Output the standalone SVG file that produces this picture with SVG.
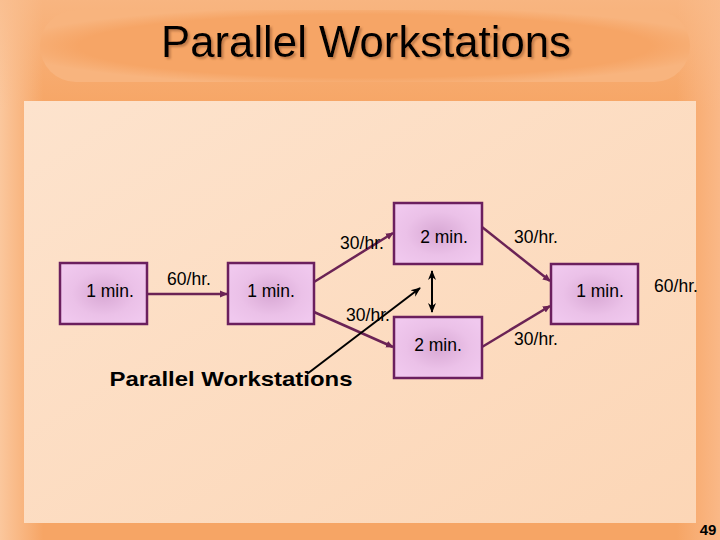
<svg xmlns="http://www.w3.org/2000/svg" width="720" height="540" viewBox="0 0 720 540">
<style>
.t{font-family:"Liberation Sans",Arial,sans-serif;font-size:17.5px;fill:#000}
.box{stroke:#6B1F5E;stroke-width:2.5;fill:url(#bg)}
.c{stroke:#6B2355;stroke-width:2.5;fill:none;marker-end:url(#ah)}
.k{stroke:#000;stroke-width:2;fill:none}
</style>
<defs>
<radialGradient id="bg" cx="0.5" cy="0.5" r="0.6">
<stop offset="0" stop-color="#D8A8D4"/>
<stop offset="0.6" stop-color="#EBC1E8"/>
<stop offset="1" stop-color="#F0C8EE"/>
</radialGradient>
<linearGradient id="outer" x1="0" y1="0" x2="1" y2="0">
<stop offset="0" stop-color="#FBC79D"/>
<stop offset="0.06" stop-color="#F6A565"/>
<stop offset="0.94" stop-color="#F6A565"/>
<stop offset="1" stop-color="#FAB887"/>
</linearGradient>
<linearGradient id="topband" x1="0" y1="0" x2="0" y2="1">
<stop offset="0" stop-color="#F9BC8C" stop-opacity="0.7"/>
<stop offset="1" stop-color="#F9BC8C" stop-opacity="0"/>
</linearGradient>
<radialGradient id="pill" cx="0.5" cy="0.5" r="0.55">
<stop offset="0.8" stop-color="#F6A566"/>
<stop offset="1" stop-color="#F8B47E"/>
</radialGradient>
<linearGradient id="panel" x1="0" y1="0" x2="1" y2="1">
<stop offset="0" stop-color="#FDE3CD"/>
<stop offset="1" stop-color="#FCD6B6"/>
</linearGradient>
<filter id="sh" x="-5%" y="-5%" width="110%" height="120%">
<feDropShadow dx="2" dy="2" stdDeviation="0.8" flood-color="#9a5a30" flood-opacity="0.6"/>
</filter>
<marker id="ah" markerWidth="8" markerHeight="8" refX="7" refY="4" orient="auto" markerUnits="userSpaceOnUse">
<path d="M0,0.5 L8,4 L0,7.5 z" fill="#6B2355"/>
</marker>
<marker id="kh" markerWidth="10" markerHeight="10" refX="9" refY="5" orient="auto-start-reverse" markerUnits="userSpaceOnUse">
<path d="M0,1 L10,5 L0,9 L3,5 z" fill="#000"/>
</marker>
</defs>
<rect x="0" y="0" width="720" height="540" fill="url(#outer)"/>
<rect x="0" y="0" width="720" height="110" fill="url(#topband)"/>
<rect x="40" y="10" width="650" height="72" rx="36" fill="url(#pill)"/>
<rect x="24" y="101" width="672" height="422" fill="url(#panel)"/>
<text x="366" y="57" text-anchor="middle" font-family="Liberation Sans,Arial,sans-serif" font-size="44" fill="#000" filter="url(#sh)" textLength="410" lengthAdjust="spacingAndGlyphs">Parallel Workstations</text>
<g id="connectors">
<line class="c" x1="147" y1="294" x2="227" y2="294"/>
<line class="c" x1="314" y1="282" x2="393" y2="233"/>
<line class="c" x1="314" y1="312" x2="393" y2="347"/>
<line class="c" x1="482" y1="227" x2="550" y2="281"/>
<line class="c" x1="482" y1="347" x2="550" y2="306"/>
<line class="k" x1="432" y1="271" x2="432" y2="312" marker-start="url(#kh)" marker-end="url(#kh)"/>
<line class="k" x1="307" y1="374" x2="420" y2="288" marker-end="url(#kh)"/>
</g>
<g id="n1"><rect class="box" x="60" y="263" width="87" height="61"/><text class="t" x="110" y="297" text-anchor="middle">1 min.</text></g>
<g id="n2"><rect class="box" x="228" y="263" width="86" height="61"/><text class="t" x="271" y="297" text-anchor="middle">1 min.</text></g>
<g id="n3"><rect class="box" x="394" y="203" width="88" height="61"/><text class="t" x="444" y="243" text-anchor="middle">2 min.</text></g>
<g id="n4"><rect class="box" x="394" y="317" width="88" height="61"/><text class="t" x="438" y="351" text-anchor="middle">2 min.</text></g>
<g id="n5"><rect class="box" x="551" y="264" width="87" height="60"/><text class="t" x="600" y="297" text-anchor="middle">1 min.</text></g>
<g id="labels">
<text class="t" x="189" y="285" text-anchor="middle">60/hr.</text>
<text class="t" x="362" y="249" text-anchor="middle">30/hr.</text>
<text class="t" x="368" y="321" text-anchor="middle">30/hr.</text>
<text class="t" x="536" y="243" text-anchor="middle">30/hr.</text>
<text class="t" x="536" y="345" text-anchor="middle">30/hr.</text>
<text class="t" x="676" y="292" text-anchor="middle">60/hr.</text>
<text x="231" y="386" text-anchor="middle" font-family="Liberation Sans,Arial,sans-serif" font-size="21" font-weight="bold" fill="#000" textLength="243" lengthAdjust="spacingAndGlyphs">Parallel Workstations</text>
<text x="708" y="535" text-anchor="middle" font-family="Liberation Sans,Arial,sans-serif" font-size="15" font-weight="bold" fill="#000">49</text>
</g>
</svg>
